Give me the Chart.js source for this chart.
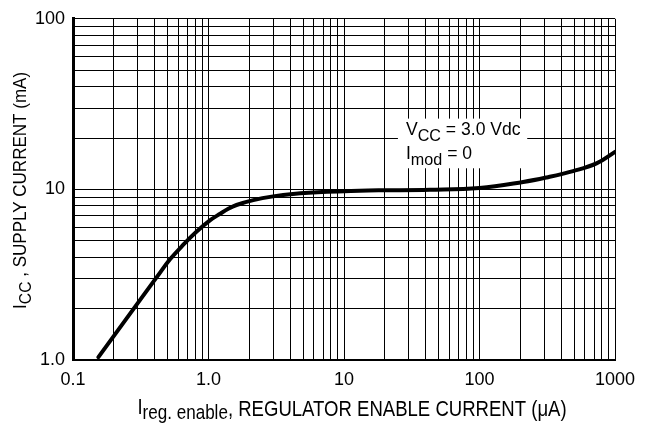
<!DOCTYPE html>
<html>
<head>
<meta charset="utf-8">
<script src="https://cdn.jsdelivr.net/npm/chart.js@4.4.1/dist/chart.umd.min.js"></script>
<style>
  html, body { margin: 0; padding: 0; background: #fff; }
  canvas { display: block; }
</style>
</head>
<body>
<canvas id="c" width="645" height="427"></canvas>
<script>
// ---- data ----
const currentX = [0.154, 0.295, 0.415, 0.52, 0.652, 0.818, 1.03, 1.22, 1.4, 1.61, 2.14, 3.0, 4.2, 7.5, 13, 18, 43, 100, 210, 313, 490, 730, 1000];
const currentY = [1.04, 2.11, 3.06, 3.89, 4.74, 5.66, 6.6, 7.2, 7.69, 8.1, 8.65, 9.1, 9.4, 9.68, 9.82, 9.87, 9.95, 10.2, 11.05, 11.75, 12.8, 14.2, 16.6];

const xLabelValues = [0.1, 1, 10, 100, 1000];
const xLabelTexts  = ['0.1', '1.0', '10', '100', '1000'];
const yLabelValues = [1, 10, 100];
const yLabelTexts  = ['1.0', '10', '100'];

const xDecades = [0.1, 1, 10, 100];
const yDecades = [1, 10];

const annLine1 = [{t: 'V'}, {t: 'CC', sub: true}, {t: ' = 3.0 Vdc'}];
const annLine2 = [{t: 'I'}, {t: 'mod', sub: true}, {t: ' = 0'}];
const xTitle = [{t: 'I', dy: -2}, {t: 'reg. enable', sub: true}, {t: ', REGULATOR ENABLE CURRENT (\u03BCA)'}];
const yTitle = [{t: 'I'}, {t: 'CC', sub: true}, {t: ' , SUPPLY CURRENT (mA)'}];
// annotation box in data units
const annBox = {x0: 25, x1: 225, y0: 13.3, y1: 26};

// grid values (1..9 per decade)
function gridValues(decades) {
  const out = [];
  decades.forEach(d => { for (let k = 1; k <= 9; k++) out.push(d * k); });
  out.push(decades[decades.length - 1] * 10);
  return out;
}
const gridX = gridValues(xDecades);
const gridY = gridValues(yDecades);

function labelFor(values, texts, v) {
  const i = values.findIndex(d => Math.abs(d - v) / d < 1e-6);
  return i >= 0 ? texts[i] : '';
}

const FONT = '"Liberation Sans", Arial, Helvetica, sans-serif';

function drawRich(ctx, parts, x, y, o) {
  const size = o.size, subSize = size * (o.subScale || 0.92), subDy = o.subDy || 5;
  let total = 0;
  parts.forEach(p => {
    ctx.font = (p.sub ? subSize : size) + 'px ' + FONT;
    p.w = ctx.measureText(p.t).width;
    total += p.w;
  });
  ctx.save();
  ctx.translate(x, y);
  if (o.rotate) ctx.rotate(-Math.PI / 2);
  ctx.scale(o.scaleX || 1, 1);
  let cx = o.align === 'center' ? -total / 2 : 0;
  ctx.fillStyle = '#000';
  ctx.textBaseline = 'alphabetic';
  ctx.textAlign = 'left';
  parts.forEach(p => {
    ctx.font = (p.sub ? subSize : size) + 'px ' + FONT;
    ctx.fillText(p.t, cx, (p.sub ? subDy : 0) + (p.dy || 0));
    cx += p.w;
  });
  ctx.restore();
}

const textPlugin = {
  id: 'texts',
  afterDatasetsDraw(chart) {
    const ctx = chart.ctx;
    const xs = chart.scales.x, ys = chart.scales.y;
    const l = xs.getPixelForValue(annBox.x0), r = xs.getPixelForValue(annBox.x1);
    const t = ys.getPixelForValue(annBox.y1), b = ys.getPixelForValue(annBox.y0);
    ctx.save();
    ctx.fillStyle = '#fff';
    ctx.fillRect(l, t, r - l, b - t);
    ctx.restore();
    drawRich(ctx, annLine1, l + 8, t + 16.5, {size: 18.5, scaleX: 0.95, subDy: 5.5});
    drawRich(ctx, annLine2, l + 8, t + 40.5, {size: 18.5, scaleX: 0.95, subDy: 5.5});
  },
  afterDraw(chart) {
    const ctx = chart.ctx;
    const a = chart.chartArea;
    drawRich(ctx, xTitle, (a.left + a.right) / 2 + 8, 415.5, {size: 22, scaleX: 0.843, subDy: 3.5, align: 'center'});
    drawRich(ctx, yTitle, 26, (a.top + a.bottom) / 2 + 1, {size: 18.5, scaleX: 0.92, subDy: 5, align: 'center', rotate: true});
  }
};

new Chart(document.getElementById('c'), {
  type: 'line',
  data: {
    datasets: [{
      data: currentX.map((x, i) => ({x: x, y: currentY[i]})),
      borderColor: '#000',
      borderWidth: 4,
      pointRadius: 0,
      fill: false,
      tension: 0.4,
      borderCapStyle: 'round',
      borderJoinStyle: 'round'
    }]
  },
  options: {
    responsive: false,
    animation: false,
    devicePixelRatio: 1,
    layout: {padding: {top: 10, right: 30, left: 0, bottom: 0}},
    plugins: {legend: {display: false}, tooltip: {enabled: false}},
    scales: {
      x: {
        type: 'logarithmic',
        min: 0.1, max: 1000,
        afterBuildTicks: s => { s.ticks = gridX.map(v => ({value: v})); },
        afterFit: s => { s.height = 67; },
        ticks: {
          autoSkip: false, maxRotation: 0, minRotation: 0,
          padding: 9,
          color: '#000',
          font: {family: FONT, size: 18},
          callback: v => labelFor(xLabelValues, xLabelTexts, v)
        },
        grid: {color: '#000', lineWidth: 1, drawTicks: false},
        border: {color: '#000', width: 2}
      },
      y: {
        type: 'logarithmic',
        min: 1, max: 100,
        afterBuildTicks: s => { s.ticks = gridY.map(v => ({value: v})); },
        afterFit: s => { s.width = 73; },
        ticks: {
          autoSkip: false,
          padding: 8,
          color: '#000',
          font: {family: FONT, size: 18},
          callback: v => labelFor(yLabelValues, yLabelTexts, v)
        },
        grid: {color: '#000', lineWidth: 1, drawTicks: false},
        border: {color: '#000', width: 3}
      }
    }
  },
  plugins: [textPlugin]
});
</script>
</body>
</html>
